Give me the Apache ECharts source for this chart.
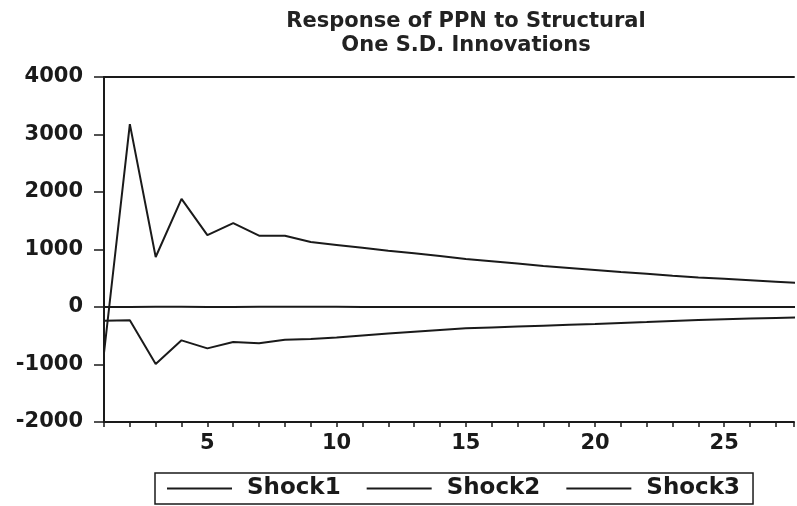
<!DOCTYPE html>
<html>
<head>
<meta charset="utf-8">
<script src="https://cdn.jsdelivr.net/npm/echarts@6/dist/echarts.min.js"></script>
<style>html,body{margin:0;padding:0;background:#fff}#c{width:797px;height:506px}</style>
</head>
<body>
<div id="c"></div>
<script>
var periods = [1,2,3,4,5,6,7,8,9,10,11,12,13,14,15,16,17,18,19,20,21,22,23,24,25,26,27,28];
var shock1 = [-800,3180,870,1880,1250,1460,1240,1240,1130,1080,1030,980,935,885,835,795,755,715,680,645,610,580,545,515,490,465,440,415];
var shock2 = [-240,-230,-990,-580,-720,-610,-630,-570,-555,-530,-495,-460,-430,-400,-370,-355,-340,-325,-310,-295,-278,-262,-245,-228,-212,-200,-190,-180];
var shock3 = [0,0,5,5,0,0,5,5,5,5,0,0,0,0,0,0,0,0,0,0,0,0,0,0,0,0,0,0];
var yTicks = [-2000,-1000,0,1000,2000,3000,4000];
var xLabels = [5,10,15,20,25];

function pairs(v){ return periods.map(function(p,i){ return [p, v[i]]; }); }
var ink = '#1a1a1a';
var chart = echarts.init(document.getElementById('c'));
chart.setOption({
  animation: false,
  backgroundColor: '#fff',
  title: {
    text: 'Response of PPN to Structural\nOne S.D. Innovations',
    left: 461, top: 5, textAlign: 'center',
    textStyle: { fontFamily: 'DejaVu Sans', fontSize: 21, fontWeight: 'bold', color: '#222', lineHeight: 24 }
  },
  legend: {
    data: ['Shock1','Shock2','Shock3'],
    left: 155, top: 473,
    icon: 'rect',
    itemWidth: 65, itemHeight: 2, itemGap: 26,
    borderColor: ink, borderWidth: 1.5, padding: [4, 13, 4, 12],
    textStyle: { fontFamily: 'DejaVu Sans', fontSize: 23, color: ink, fontWeight: 'bold', padding: [0, 0, 0, 10] }
  },
  grid: { left: 104, top: 77, right: 0, bottom: 84, containLabel: false },
  xAxis: [{
    type: 'value', min: 1, max: 27.7, interval: 1,
    axisLine: { onZero: false, lineStyle: { color: ink, width: 2 } },
    axisTick: { show: true, length: 5, lineStyle: { color: ink, width: 1.5 } },
    axisLabel: {
      margin: 11, color: ink, fontFamily: 'DejaVu Sans', fontSize: 21, fontWeight: 'bold',
      formatter: function(v){ return xLabels.indexOf(v) >= 0 ? String(v) : ''; }
    },
    splitLine: { show: false }
  }, {
    type: 'value', min: 1, max: 27.7, position: 'top',
    axisLine: { show: true, onZero: false, lineStyle: { color: ink, width: 2 } },
    axisTick: { show: false }, axisLabel: { show: false }, splitLine: { show: false }
  }],
  yAxis: {
    type: 'value', min: yTicks[0], max: yTicks[yTicks.length-1], interval: 1000,
    axisLine: { show: true, onZero: false, lineStyle: { color: ink, width: 2 } },
    axisTick: { show: true, length: 10, lineStyle: { color: ink, width: 1.5 } },
    axisLabel: { margin: 21, color: ink, fontFamily: 'DejaVu Sans', fontSize: 21, fontWeight: 'bold',
      formatter: function(v){ return String(v); } },
    splitLine: { show: false }
  },
  series: [
    { name: 'Shock1', type: 'line', data: pairs(shock1), symbol: 'none', lineStyle: { color: ink, width: 2 }, itemStyle: { color: ink } },
    { name: 'Shock2', type: 'line', data: pairs(shock2), symbol: 'none', lineStyle: { color: ink, width: 2 }, itemStyle: { color: ink } },
    { name: 'Shock3', type: 'line', data: pairs(shock3), symbol: 'none', lineStyle: { color: ink, width: 2 }, itemStyle: { color: ink } }
  ]
});
</script>
</body>
</html>
